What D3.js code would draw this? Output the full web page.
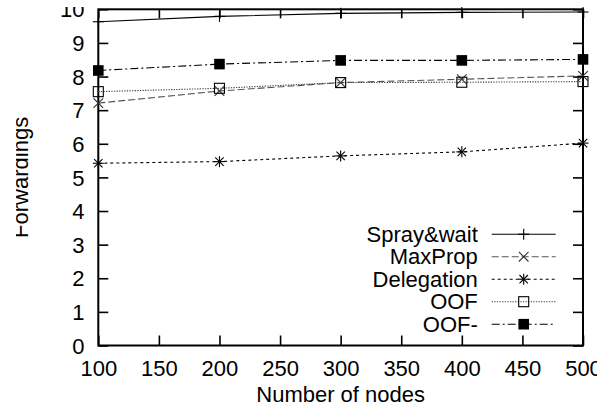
<!DOCTYPE html>
<html>
<head>
<meta charset="utf-8">
<script src="https://cdn.jsdelivr.net/npm/d3@7"></script>
<style>
  html, body { margin: 0; padding: 0; background: #fff; }
  svg { display: block; }
  text { font-family: "Liberation Sans", Arial, Helvetica, sans-serif; fill: #000; }
</style>
</head>
<body>
<svg id="chart" width="611" height="419"></svg>
<script>
// Number of nodes on the x axis
const nodes = [100, 200, 300, 400, 500];

// Average forwardings per message for each protocol
const sprayWait  = [9.63, 9.79, 9.88, 9.91, 9.92];
const maxProp    = [7.21, 7.57, 7.82, 7.92, 8.02];
const delegation = [5.42, 5.47, 5.64, 5.76, 6.02];
const oof        = [7.55, 7.65, 7.82, 7.83, 7.85];
const oofMinus   = [8.18, 8.37, 8.48, 8.48, 8.51];

const seriesNames = ["Spray&wait", "MaxProp", "Delegation", "OOF", "OOF-"];

const xTicks = [100, 150, 200, 250, 300, 350, 400, 450, 500];
const yTicks = [0, 1, 2, 3, 4, 5, 6, 7, 8, 9, 10];

const xTitle = "Number of nodes";
const yTitle = "Forwardings";

const series = [
  { name: seriesNames[0], values: sprayWait,  dash: null,      color: "#000", marker: "plus" },
  { name: seriesNames[1], values: maxProp,    dash: "7,3",     color: "#555", marker: "cross" },
  { name: seriesNames[2], values: delegation, dash: "3,3",     color: "#000", marker: "star" },
  { name: seriesNames[3], values: oof,        dash: "1.3,1.3", color: "#444", marker: "square" },
  { name: seriesNames[4], values: oofMinus,   dash: "8,3,2,3", color: "#000", marker: "fsquare" }
];

const svg = d3.select("#chart");

// visible window of the figure
svg.append("defs").append("clipPath").attr("id", "view")
  .append("rect").attr("x", 16).attr("y", 7).attr("width", 581).attr("height", 412);

const root = svg.append("g").attr("clip-path", "url(#view)");

const plotLeft = 98.3, plotRight = 583, plotTop = 9.3, plotBottom = 345.5;
const x = d3.scaleLinear().domain([100, 500]).range([plotLeft, plotRight]);
const y = d3.scaleLinear().domain([0, 10]).range([plotBottom, plotTop]);

const fontSize = 22;
const tickLen = 10;

// axes with inward ticks on all four sides
const gBottom = root.append("g").attr("transform", `translate(0,${plotBottom})`)
  .call(d3.axisBottom(x).tickValues(xTicks).tickSizeInner(-tickLen).tickSizeOuter(0).tickFormat(d3.format("d")));
gBottom.selectAll("text").attr("y", 30.5).attr("dy", null)
  .style("font-size", fontSize + "px");

const gLeft = root.append("g").attr("transform", `translate(${plotLeft},0)`)
  .call(d3.axisLeft(y).tickValues(yTicks).tickSizeInner(-tickLen).tickSizeOuter(0).tickFormat(d3.format("d")));
gLeft.selectAll("text").attr("x", -13.8).attr("dy", "7.6")
  .style("font-size", fontSize + "px");

const gTop = root.append("g").attr("transform", `translate(0,${plotTop})`)
  .call(d3.axisTop(x).tickValues(xTicks).tickSizeInner(-9).tickSizeOuter(0).tickFormat(""));
const gRight = root.append("g").attr("transform", `translate(${plotRight},0)`)
  .call(d3.axisRight(y).tickValues(yTicks).tickSizeInner(-tickLen).tickSizeOuter(0).tickFormat(""));

[gBottom, gLeft, gTop, gRight].forEach(g => {
  g.select(".domain").remove();
  g.selectAll(".tick line").attr("stroke", "#000").attr("stroke-width", 1.6);
  g.attr("font-family", null).attr("font-size", null);
});

// plot border
root.append("rect")
  .attr("x", plotLeft).attr("y", plotTop)
  .attr("width", plotRight - plotLeft).attr("height", plotBottom - plotTop)
  .attr("fill", "none").attr("stroke", "#000").attr("stroke-width", 2);

// axis titles
root.append("text")
  .attr("x", (plotLeft + plotRight) / 2).attr("y", 401.5)
  .attr("text-anchor", "middle")
  .style("font-size", fontSize + "px")
  .text(xTitle);

root.append("text")
  .attr("transform", `translate(27.5,${(plotTop + plotBottom) / 2}) rotate(-90)`)
  .attr("text-anchor", "middle")
  .style("font-size", fontSize + "px")
  .text(yTitle);

// point markers
function drawMarker(g, kind, cx, cy, color) {
  const h = 5.5;
  const st = { stroke: color === "#555" ? "#333" : "#000", "stroke-width": 1.1, fill: "none" };
  const line = (x1, y1, x2, y2) => {
    const l = g.append("line").attr("x1", x1).attr("y1", y1).attr("x2", x2).attr("y2", y2);
    Object.entries(st).forEach(([k, v]) => l.attr(k, v));
  };
  if (kind === "plus" || kind === "star") {
    line(cx - h, cy, cx + h, cy);
    line(cx, cy - h, cx, cy + h);
  }
  if (kind === "cross" || kind === "star") {
    const d = kind === "star" ? 4.2 : 4.8;
    line(cx - d, cy - d, cx + d, cy + d);
    line(cx - d, cy + d, cx + d, cy - d);
  }
  if (kind === "square") {
    g.append("rect").attr("x", cx - 5).attr("y", cy - 5).attr("width", 10).attr("height", 10)
      .attr("fill", "none").attr("stroke", "#000").attr("stroke-width", 1.1);
  }
  if (kind === "fsquare") {
    g.append("rect").attr("x", cx - 5.3).attr("y", cy - 5.3).attr("width", 10.6).attr("height", 10.6)
      .attr("fill", "#000");
  }
}

const lineGen = d3.line().x((d, i) => x(nodes[i])).y(d => y(d));

const plot = root.append("g");
series.forEach(s => {
  plot.append("path")
    .datum(s.values)
    .attr("d", lineGen)
    .attr("fill", "none")
    .attr("stroke", s.color)
    .attr("stroke-width", 1.1)
    .attr("stroke-dasharray", s.dash);
  s.values.forEach((v, i) => drawMarker(plot, s.marker, x(nodes[i]), y(v), s.color));
});

// legend
const legend = root.append("g");
const legendTextX = 477.8, legendX1 = 491.7, legendX2 = 555.7, legendTop = 241.7, legendStep = 22.5;
series.forEach((s, i) => {
  const by = legendTop + i * legendStep;
  legend.append("text")
    .attr("x", legendTextX).attr("y", by)
    .attr("text-anchor", "end")
    .style("font-size", fontSize + "px")
    .text(s.name);
  const ly = by - 7.5;
  legend.append("line")
    .attr("x1", legendX1).attr("x2", legendX2).attr("y1", ly).attr("y2", ly)
    .attr("stroke", s.color).attr("stroke-width", 1.1)
    .attr("stroke-dasharray", s.dash);
  drawMarker(legend, s.marker, (legendX1 + legendX2) / 2, ly, s.color);
});
</script>
</body>
</html>
